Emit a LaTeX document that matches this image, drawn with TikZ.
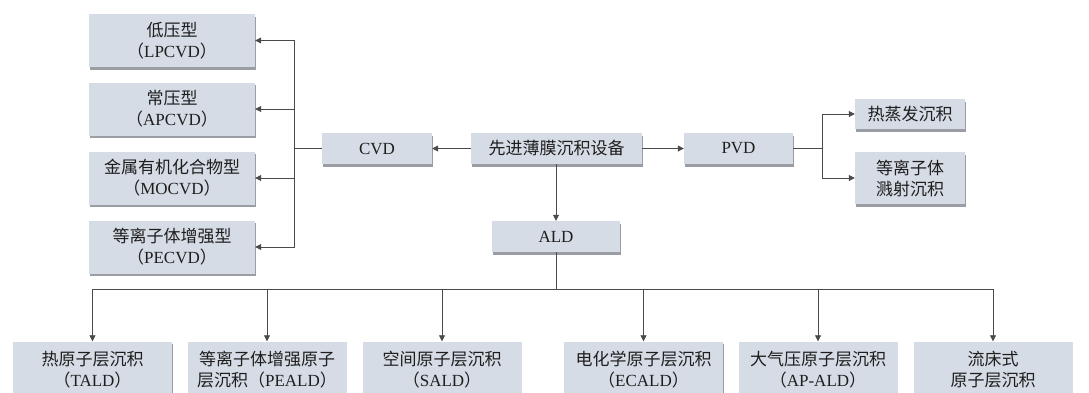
\documentclass[tikz,border=0pt]{standalone}
\usepackage{fontspec}
\setmainfont{Liberation Serif}
\newfontfamily\cjk{Noto Sans CJK SC}
\usetikzlibrary{arrows.meta,shadows}
\definecolor{boxfill}{HTML}{D6DCE5}
\definecolor{shadowc}{HTML}{9A9EA4}
\definecolor{linec}{HTML}{4A4A4A}
\definecolor{textc}{HTML}{1E1E1E}
\newcommand\zh[1]{{\cjk #1}}
\begin{document}
\begin{tikzpicture}[x=1pt,y=-1pt,
  box/.style={fill=boxfill, draw=none, align=center, inner sep=0pt, text=textc,
    font=\fontsize{17}{21}\selectfont,
    drop shadow={shadow xshift=0.5pt,shadow yshift=-2.5pt,fill=shadowc,opacity=1}},
  conn/.style={draw=linec, line width=0.8pt},
  arr/.style={conn, -{Triangle[length=6pt,width=6pt]}}]
\useasboundingbox (0,0) rectangle (1089,392);
\fill[white] (0,0) rectangle (1089,392);
\clip (0,0) rectangle (1089,392);
% top row
\node[box, minimum width=171pt, minimum height=31pt] (main) at (556.5,148.5) {\zh{先进薄膜沉积设备}};
\node[box, minimum width=110pt, minimum height=31pt] (cvd) at (377,148.5) {CVD};
\node[box, minimum width=109pt, minimum height=31pt] (pvd) at (738.5,148.5) {PVD};
\node[box, minimum width=128pt, minimum height=31pt] (ald) at (556,236.5) {ALD};
% CVD leaves
\node[box, minimum width=166pt, minimum height=53pt] (l1) at (172,40.5) {\zh{低压型}\\\zh{（}LPCVD\zh{）}};
\node[box, minimum width=166pt, minimum height=53pt] (l2) at (172,109) {\zh{常压型}\\\zh{（}APCVD\zh{）}};
\node[box, minimum width=166pt, minimum height=53pt] (l3) at (172,178) {\zh{金属有机化合物型}\\\zh{（}MOCVD\zh{）}};
\node[box, minimum width=166pt, minimum height=53pt] (l4) at (172,247) {\zh{等离子体增强型}\\\zh{（}PECVD\zh{）}};
% PVD leaves
\node[box, minimum width=110pt, minimum height=30pt] (r1) at (910,114) {\zh{热蒸发沉积}};
\node[box, minimum width=110pt, minimum height=52pt] (r2) at (910,178) {\zh{等离子体}\\\zh{溅射沉积}};
% ALD leaves
\node[box, minimum width=159pt, minimum height=57pt] (b1) at (92.5,370) {\zh{热原子层沉积}\\\zh{（}TALD\zh{）}};
\node[box, minimum width=159pt, minimum height=57pt] (b2) at (267,370) {\zh{等离子体增强原子}\\\zh{层沉积（}PEALD\zh{）}};
\node[box, minimum width=159pt, minimum height=57pt] (b3) at (442,370) {\zh{空间原子层沉积}\\\zh{（}SALD\zh{）}};
\node[box, minimum width=159pt, minimum height=57pt] (b4) at (643.5,370) {\zh{电化学原子层沉积}\\\zh{（}ECALD\zh{）}};
\node[box, minimum width=159pt, minimum height=57pt] (b5) at (818,370) {\zh{大气压原子层沉积}\\\zh{（}AP-ALD\zh{）}};
\node[box, minimum width=159pt, minimum height=57pt] (b6) at (993,370) {\zh{流床式}\\\zh{原子层沉积}};
% bus coordinates
\coordinate (cbus) at (294,148.5);
\coordinate (pbus) at (822,148.5);
\coordinate (abus) at (556,289);
% connectors
\draw[arr] (main.west) -- (cvd.east);
\draw[arr] (main.east) -- (pvd.west);
\draw[arr] (main.south -| ald.north) -- (ald.north);
\foreach \n in {l1,l2,l3,l4}{
  \draw[arr] (cvd.west) -- (cbus) |- (\n.east);
}
\foreach \n in {r1,r2}{
  \draw[arr] (pvd.east) -- (pbus) |- (\n.west);
}
\foreach \n in {b1,b2,b3,b4,b5,b6}{
  \draw[arr] (ald.south) -- (abus) -| (\n.north);
}
\end{tikzpicture}
\end{document}
